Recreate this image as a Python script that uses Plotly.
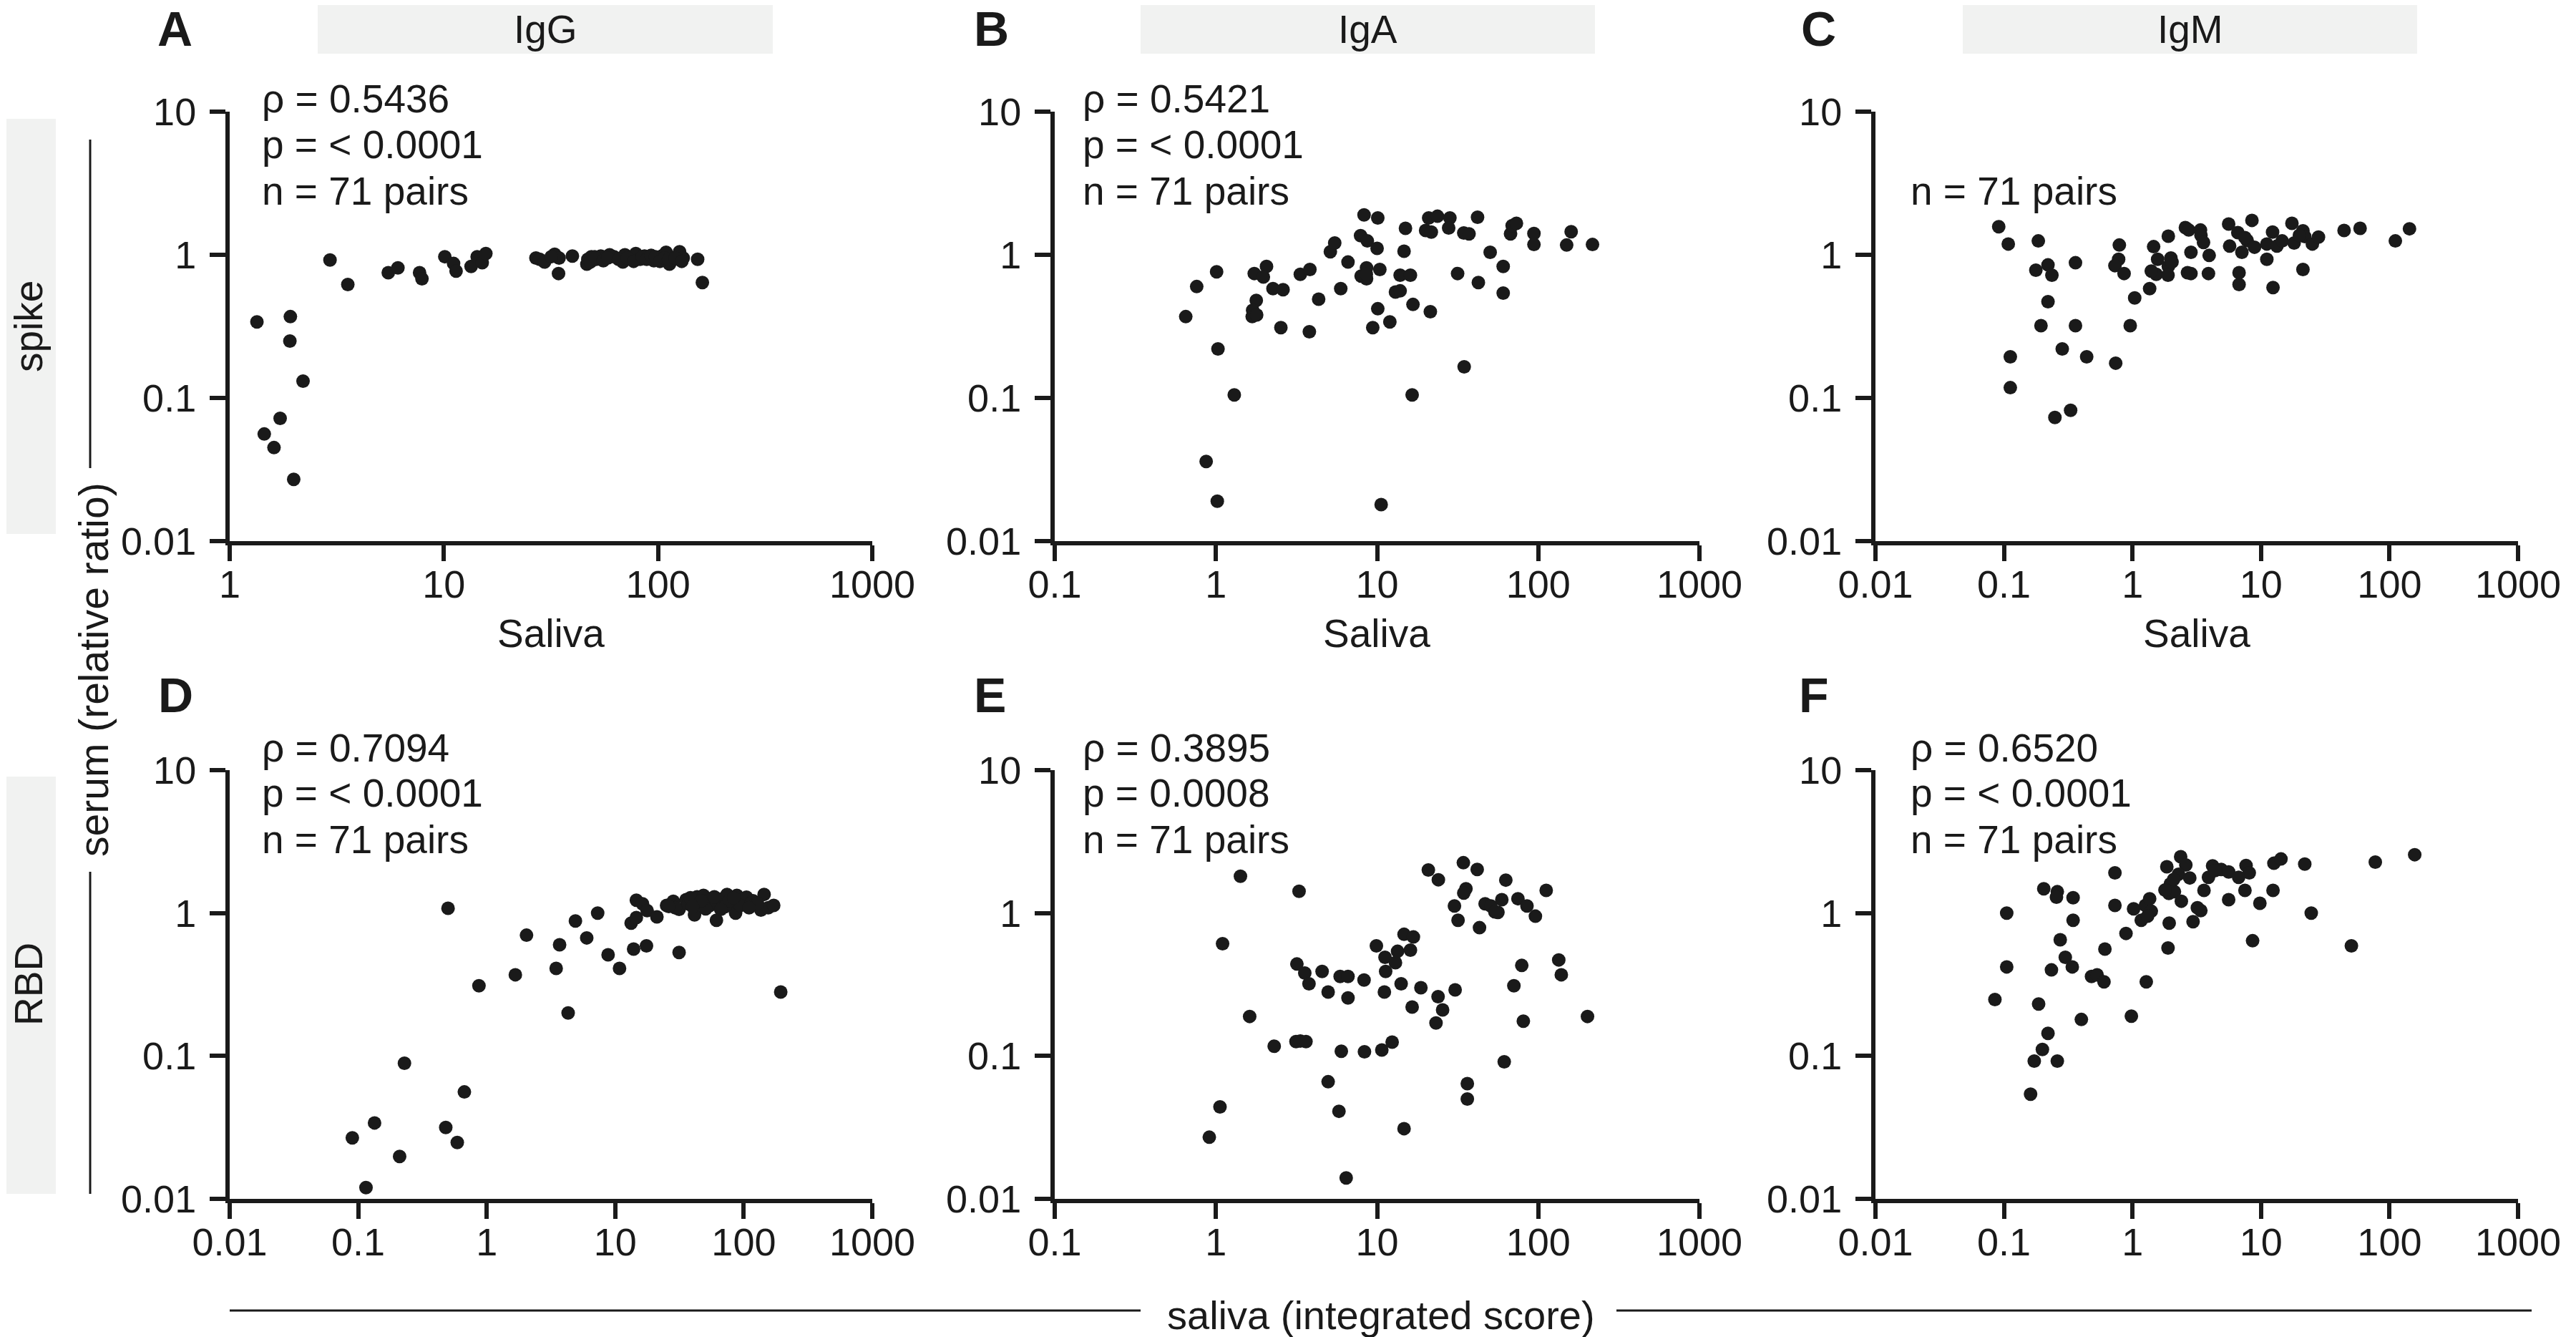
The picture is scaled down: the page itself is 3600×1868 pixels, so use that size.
import math
import plotly.graph_objects as go

W, H = 3600, 1868
FONT = "Liberation Sans, Arial, sans-serif"
INK = "#1a1a1a"

# ---------------- data (saliva integrated score vs serum relative ratio) ----------------
A_saliva = [1.34, 1.92, 1.91, 2.2, 1.72, 1.45, 1.61, 1.99, 2.94, 3.56, 5.5, 6.1, 7.7, 7.9, 10.1, 11.1, 11.4,
            13.4, 14.3, 15.1, 15.7, 26.9, 28, 29.5, 32.9, 34.5, 34.3, 39.8, 46.5, 47, 48.8, 51.5, 54, 56.7,
            59.4, 62.3, 68.5, 70, 75, 78.7, 82.4, 86.4, 90.6, 95.6, 100, 104, 109, 113, 117, 123, 126, 131,
            153, 161, 48.3, 50.6, 55.5, 58.2, 65.4, 71.8, 76.9, 84.5, 88.5, 92.8, 97.2, 102, 107, 112, 120,
            129, 31.7]
A_serum = [0.34, 0.37, 0.25, 0.131, 0.072, 0.056, 0.045, 0.027, 0.92, 0.62, 0.75, 0.81, 0.75, 0.68, 0.97,
           0.87, 0.77, 0.83, 0.97, 0.88, 1.02, 0.95, 0.93, 0.89, 1.01, 0.95, 0.74, 0.98, 0.86, 0.93, 0.97,
           0.93, 0.98, 0.95, 1.0, 0.97, 0.89, 1.0, 0.95, 1.02, 0.93, 0.98, 0.97, 0.91, 0.95, 0.98, 1.04,
           0.86, 0.92, 0.98, 1.05, 0.95, 0.93, 0.64, 0.89, 0.97, 0.91, 0.95, 0.93, 0.95, 0.90, 0.97, 0.93,
           0.99, 0.97, 0.90, 0.95, 0.93, 0.95, 0.90, 0.97]

B_saliva = [0.65, 0.76, 1.01, 1.03, 1.30, 0.87, 1.02, 10.6, 1.73, 2.06, 1.97, 1.78, 1.69, 1.68, 1.79, 2.26,
            2.61, 2.53, 3.34, 3.83, 3.8, 4.34, 5.13, 5.46, 5.95, 6.6, 8.3, 7.9, 8.7, 7.96, 8.6, 8.6, 10.1,
            10.0, 10.4, 10.1, 9.4, 12.0, 15.0, 14.7, 13.9, 16.1, 13.0, 13.9, 16.7, 16.5, 21.4, 20.9, 23.7,
            20.0, 21.7, 28.3, 27.8, 31.6, 34.5, 37.2, 34.7, 42, 42.5, 50.3, 60.6, 60.6, 67.3, 68.9, 73.2,
            94, 94, 150, 160, 217, 8.57]
B_serum = [0.37, 0.60, 0.76, 0.22, 0.105, 0.036, 0.019, 0.018, 0.74, 0.83, 0.70, 0.48, 0.41, 0.37, 0.38,
           0.58, 0.57, 0.31, 0.73, 0.79, 0.29, 0.49, 1.05, 1.21, 0.58, 0.89, 1.90, 1.36, 1.25, 0.71, 0.81,
           0.68, 1.81, 1.11, 0.79, 0.42, 0.31, 0.34, 1.53, 1.06, 0.72, 0.72, 0.55, 0.56, 0.45, 0.105, 0.40,
           1.81, 1.86, 1.48, 1.44, 1.81, 1.54, 0.74, 1.42, 1.40, 0.165, 1.83, 0.64, 1.04, 0.83, 0.54, 1.40,
           1.60, 1.66, 1.41, 1.18, 1.17, 1.45, 1.18, 0.73]

C_saliva = [0.091, 0.108, 0.112, 0.112, 0.185, 0.177, 0.22, 0.236, 0.22, 0.194, 0.36, 0.36, 0.284, 0.44,
            0.249, 0.33, 0.79, 0.78, 0.73, 0.86, 0.96, 0.74, 1.04, 1.36, 1.46, 1.57, 1.53, 1.9, 1.99, 1.9,
            1.89, 2.58, 2.74, 2.85, 2.68, 2.85, 3.38, 3.41, 3.57, 3.95, 3.9, 5.6, 6.6, 7.8, 8.5, 8.9, 7.1,
            6.75, 6.75, 11.1, 11.1, 12.3, 13.3, 14.6, 12.4, 17.4, 18.1, 21.2, 21.9, 21.2, 25.1, 28, 44.3,
            59, 111, 143, 2.03, 7.5, 19.9, 1.40, 5.7]
C_serum = [1.57, 1.19, 0.194, 0.118, 1.25, 0.78, 0.85, 0.72, 0.47, 0.32, 0.88, 0.32, 0.22, 0.194, 0.073,
           0.082, 1.17, 0.93, 0.84, 0.74, 0.32, 0.175, 0.50, 0.58, 1.14, 0.93, 0.73, 1.35, 0.95, 0.83, 0.72,
           1.55, 1.49, 1.04, 0.75, 0.74, 1.49, 1.37, 1.22, 0.99, 0.74, 1.64, 1.43, 1.26, 1.74, 1.13, 1.04,
           0.75, 0.62, 1.19, 0.93, 1.44, 1.15, 1.25, 0.59, 1.66, 1.21, 1.47, 1.34, 0.79, 1.19, 1.33, 1.48,
           1.53, 1.25, 1.52, 0.89, 1.32, 1.37, 0.77, 1.15]

D_saliva = [0.09, 0.134, 0.115, 0.21, 0.229, 0.48, 0.59, 0.67, 0.50, 0.87, 1.67, 2.04, 3.47, 3.69, 4.3, 4.9,
            6.0, 7.3, 8.8, 10.8, 13.3, 13.9, 17.5, 14.6, 16.3, 14.6, 17.7, 21.1, 25.1, 28.3, 31.4, 31.4,
            35.6, 41.4, 43.3, 48.6, 51.2, 56.7, 61.3, 63.6, 68.6, 74.1, 80, 86.4, 88.4, 97, 105, 118, 136,
            144, 155, 171, 194, 37.0, 45.0, 54.6, 71.6, 94.0, 114, 59.0, 38.5, 29.3, 128, 26.1, 50.5, 77.4,
            46.7, 66.2, 83.6, 110, 40.0]
D_serum = [0.0267, 0.034, 0.012, 0.0198, 0.089, 0.0316, 0.0248, 0.056, 1.08, 0.31, 0.37, 0.70, 0.41, 0.60,
           0.20, 0.88, 0.67, 1.0, 0.51, 0.41, 0.85, 0.56, 0.59, 1.23, 1.16, 0.93, 1.04, 0.94, 1.13, 1.21,
           1.06, 0.53, 1.24, 0.97, 1.30, 1.33, 1.21, 1.26, 0.89, 1.17, 1.26, 1.35, 1.13, 1.0, 1.33, 1.24,
           1.29, 1.22, 1.05, 1.35, 1.09, 1.13, 0.28, 1.16, 1.17, 1.13, 1.11, 1.13, 1.17, 1.30, 1.28, 1.09,
           1.17, 1.11, 1.07, 1.22, 1.22, 1.06, 1.28, 1.09, 1.11]

E_saliva = [0.91, 1.06, 1.1, 1.42, 1.62, 2.3, 3.14, 3.34, 3.62, 3.28, 3.18, 3.56, 3.78, 4.56, 4.97, 4.97,
            5.9, 6.6, 6.6, 6.0, 5.8, 6.43, 8.3, 8.35, 9.9, 10.7, 12.4, 11.2, 11.3, 11.1, 13.0, 13.4, 14.7,
            16.1, 16.8, 14.1, 18.7, 16.5, 14.7, 20.8, 24, 23.9, 25.5, 23.2, 30.5, 30.2, 31.8, 34.3, 35.6,
            34.5, 41.8, 43.2, 46.8, 50.8, 56.2, 59.4, 62.9, 61.5, 36.3, 36.3, 74.8, 85.1, 96, 112, 79, 70.6,
            80.8, 134, 139, 202, 53.8]
E_serum = [0.027, 0.044, 0.61, 1.81, 0.189, 0.117, 0.126, 0.127, 0.126, 1.42, 0.44, 0.38, 0.32, 0.39, 0.28,
           0.066, 0.36, 0.36, 0.255, 0.108, 0.041, 0.014, 0.34, 0.107, 0.59, 0.11, 0.125, 0.49, 0.39, 0.28,
           0.45, 0.54, 0.71, 0.55, 0.68, 0.32, 0.30, 0.22, 0.031, 2.0, 1.71, 0.26, 0.21, 0.17, 0.29, 1.12,
           0.89, 2.25, 1.48, 1.38, 2.02, 0.79, 1.16, 1.12, 1.01, 1.24, 1.70, 0.091, 0.064, 0.050, 1.26, 1.12,
           0.95, 1.44, 0.43, 0.31, 0.175, 0.47, 0.37, 0.189, 1.02]

F_saliva = [0.085, 0.105, 0.105, 0.161, 0.172, 0.199, 0.22, 0.26, 0.186, 0.234, 0.274, 0.30, 0.34, 0.345,
            0.345, 0.204, 0.26, 0.256, 0.40, 0.48, 0.53, 0.60, 0.61, 0.73, 0.73, 0.89, 0.98, 1.02, 1.17, 1.28,
            1.26, 1.36, 1.4, 1.85, 1.97, 1.92, 2.12, 1.93, 1.89, 2.37, 2.6, 2.28, 2.79, 2.4, 2.96, 3.2, 3.4,
            3.6, 3.9, 4.2, 4.9, 5.6, 5.6, 7.65, 8.1, 7.5, 8.6, 9.8, 12.6, 14.3, 12.4, 21.9, 24.6, 50.5, 77.5,
            157, 2.09, 1.31, 4.37, 1.79, 6.7]
F_serum = [0.248, 1.0, 0.42, 0.054, 0.092, 0.111, 0.144, 0.092, 0.231, 0.40, 0.65, 0.49, 0.42, 0.89, 1.28,
           1.48, 1.41, 1.29, 0.18, 0.36, 0.37, 0.33, 0.56, 1.91, 1.13, 0.72, 0.19, 1.07, 0.89, 0.33, 1.13,
           1.26, 1.03, 2.11, 1.6, 1.37, 1.41, 0.85, 0.57, 2.48, 2.17, 1.87, 1.76, 1.21, 0.87, 1.09, 1.04,
           1.44, 1.78, 2.14, 2.02, 1.94, 1.24, 2.15, 1.91, 1.44, 0.64, 1.17, 2.23, 2.39, 1.44, 2.2, 1.0,
           0.59, 2.27, 2.56, 1.72, 0.95, 1.98, 1.45, 1.78]

panel_letters = ["A", "B", "C", "D", "E", "F"]
isotypes = ["IgG", "IgA", "IgM"]
antigens = ["spike", "RBD"]
stats = [["ρ = 0.5436", "p = < 0.0001", "n = 71 pairs"],
         ["ρ = 0.5421", "p = < 0.0001", "n = 71 pairs"],
         ["", "", "n = 71 pairs"],
         ["ρ = 0.7094", "p = < 0.0001", "n = 71 pairs"],
         ["ρ = 0.3895", "p = 0.0008", "n = 71 pairs"],
         ["ρ = 0.6520", "p = < 0.0001", "n = 71 pairs"]]
x_ticks_A = [1, 10, 100, 1000]
x_ticks_B = [0.1, 1, 10, 100, 1000]
x_ticks_C = [0.01, 0.1, 1, 10, 100, 1000]
y_ticks = [0.01, 0.1, 1, 10]
x_title = "Saliva"
y_title = "serum (relative ratio)"
bottom_title = "saliva (integrated score)"

panel_x = [A_saliva, B_saliva, C_saliva, D_saliva, E_saliva, F_saliva]
panel_y = [A_serum, B_serum, C_serum, D_serum, E_serum, F_serum]
panel_xticks = [x_ticks_A, x_ticks_B, x_ticks_C, x_ticks_C, x_ticks_B, x_ticks_C]


def fmt(v):
    return "%g" % v


# ---------------- layout geometry (pixels) ----------------
def px(x):
    return x / W


def py(y):
    return 1 - y / H


col_px = [(321, 1219), (1474, 2375), (2621, 3519)]
row_px = [(156, 756), (1076, 1675)]

fig = go.Figure()
layout = dict(width=W, height=H, autosize=False,
              margin=dict(l=0, r=0, t=0, b=0, pad=0, autoexpand=False),
              paper_bgcolor="white", plot_bgcolor="white", showlegend=False,
              font=dict(family=FONT, color=INK, size=54))

annotations = []
shapes = []

for i in range(6):
    r, c = divmod(i, 3)
    xa = "xaxis" if i == 0 else "xaxis%d" % (i + 1)
    ya = "yaxis" if i == 0 else "yaxis%d" % (i + 1)
    xr = "x" if i == 0 else "x%d" % (i + 1)
    yr = "y" if i == 0 else "y%d" % (i + 1)
    xt = panel_xticks[i]
    common = dict(type="log", showline=True, linecolor=INK, linewidth=6, ticks="outside",
                  ticklen=22, tickwidth=6, tickcolor=INK, showgrid=False, zeroline=False,
                  automargin=False, fixedrange=True,
                  tickfont=dict(family=FONT, size=54, color=INK))
    layout[xa] = dict(common, domain=[px(col_px[c][0]), px(col_px[c][1])], anchor=yr,
                      range=[math.log10(xt[0]), math.log10(xt[-1])],
                      tickvals=xt, ticktext=[fmt(v) for v in xt], ticklabelstandoff=-14)
    layout[ya] = dict(common, domain=[py(row_px[r][1]), py(row_px[r][0])], anchor=xr,
                      range=[-2, 1], tickvals=y_ticks, ticktext=[fmt(v) for v in y_ticks],
                      ticklabelstandoff=8)
    fig.add_trace(go.Scatter(x=panel_x[i], y=panel_y[i], mode="markers", xaxis=xr, yaxis=yr,
                             marker=dict(size=19, color=INK, line=dict(width=0)),
                             cliponaxis=False, hoverinfo="skip"))

    # stats text
    stat_x = [364, 1511, 2668][c]
    stat_y = [[138, 202, 267], [1045, 1108, 1173]][r]
    for k, t in enumerate(stats[i]):
        if t:
            annotations.append(dict(text=t, x=px(stat_x), y=py(stat_y[k]), xref="paper", yref="paper",
                                    xanchor="left", yanchor="middle", showarrow=False,
                                    font=dict(family=FONT, size=55, color=INK)))
    # panel letters
    lx = [[245, 1385, 2541], [246, 1383, 2535]][r][c]
    ly = [40, 971][r]
    annotations.append(dict(text="<b>%s</b>" % panel_letters[i], x=px(lx), y=py(ly), xref="paper",
                            yref="paper", xanchor="center", yanchor="middle", showarrow=False,
                            font=dict(family=FONT, size=68, color=INK)))
    # "Saliva" titles on top row
    if r == 0:
        annotations.append(dict(text=x_title, x=px((col_px[c][0] + col_px[c][1]) / 2), y=py(885),
                                xref="paper", yref="paper", xanchor="center", yanchor="middle",
                                showarrow=False, font=dict(family=FONT, size=55, color=INK)))

# isotype header boxes
box_x = [(444, 1080), (1594, 2229), (2743, 3378)]
for c, name in enumerate(isotypes):
    shapes.append(dict(type="rect", xref="paper", yref="paper", x0=px(box_x[c][0]), x1=px(box_x[c][1]),
                       y0=py(75), y1=py(7), fillcolor="#f1f2f1", line=dict(width=0), layer="below"))
    annotations.append(dict(text=name, x=px((box_x[c][0] + box_x[c][1]) / 2), y=py(41), xref="paper",
                            yref="paper", xanchor="center", yanchor="middle", showarrow=False,
                            font=dict(family=FONT, size=55, color=INK)))

# antigen row boxes
row_box = [(166, 746), (1085, 1668)]
row_mid = [456, 1375]
for r, name in enumerate(antigens):
    shapes.append(dict(type="rect", xref="paper", yref="paper", x0=px(9), x1=px(78),
                       y0=py(row_box[r][1]), y1=py(row_box[r][0]), fillcolor="#f1f2f1",
                       line=dict(width=0), layer="below"))
    annotations.append(dict(text=name, x=px(40), y=py(row_mid[r]), xref="paper", yref="paper",
                            xanchor="center", yanchor="middle", textangle=-90, showarrow=False,
                            font=dict(family=FONT, size=55, color=INK)))

# shared y title with lines
annotations.append(dict(text=y_title, x=px(131), y=py(936), xref="paper", yref="paper",
                        xanchor="center", yanchor="middle", textangle=-90, showarrow=False,
                        font=dict(family=FONT, size=57, color=INK)))
for (a, b) in [(195, 654), (1218, 1668)]:
    shapes.append(dict(type="line", xref="paper", yref="paper", x0=px(126), x1=px(126),
                       y0=py(a), y1=py(b), line=dict(color=INK, width=3)))

# shared x title with lines
annotations.append(dict(text=bottom_title, x=px(1930), y=py(1837), xref="paper", yref="paper",
                        xanchor="center", yanchor="middle", showarrow=False,
                        font=dict(family=FONT, size=56, color=INK)))
for (a, b) in [(321, 1594), (2259, 3538)]:
    shapes.append(dict(type="line", xref="paper", yref="paper", x0=px(a), x1=px(b),
                       y0=py(1831), y1=py(1831), line=dict(color=INK, width=3)))

layout["annotations"] = annotations
layout["shapes"] = shapes
fig.update_layout(**layout)
fig.write_html("out.html", config={"displayModeBar": False},
               post_script="document.body.style.margin='0px';document.body.style.overflow='hidden';")
